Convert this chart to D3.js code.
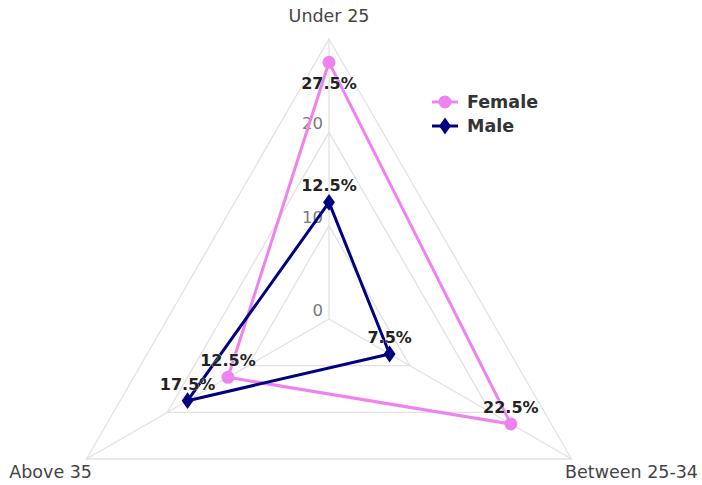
<!DOCTYPE html>
<html lang="en">
<head>
<meta charset="UTF-8">
<title>Age groups radar</title>
<script src="https://cdn.jsdelivr.net/npm/d3@7/dist/d3.min.js"></script>
<style>
  body { margin: 0; background: #fff; }
  svg text { font-family: "DejaVu Sans", sans-serif; }
</style>
</head>
<body>
<div id="chart"></div>
<script>
  // data
  var categories = ["Under 25", "Between 25-34", "Above 35"];
  var seriesNames = ["Female", "Male"];
  var female = [27.5, 22.5, 12.5];
  var male = [12.5, 7.5, 17.5];
  var ticks = [0, 10, 20, 30];
  var tickLabels = ["0", "10", "20"];

  var width = 702, height = 485;
  var cx = 329, cy = 319;
  var colors = ["#ee82ee", "#000080"];

  var svg = d3.select("#chart").append("svg")
      .attr("width", width)
      .attr("height", height);

  var r = d3.scaleLinear().domain([0, 30]).range([0, 280]);
  function ang(i) { return -Math.PI / 2 + i * 2 * Math.PI / categories.length; }
  function px(i, v) { return cx + r(v) * Math.cos(ang(i)); }
  function py(i, v) { return cy + r(v) * Math.sin(ang(i)); }

  var g = svg.append("g");

  // grid triangles
  ticks.slice(1).forEach(function(t) {
    g.append("polygon")
      .attr("points", categories.map(function(c, i) { return px(i, t) + "," + py(i, t); }).join(" "))
      .attr("fill", "none")
      .attr("stroke", "#e2e2e2")
      .attr("stroke-width", 1.3);
  });

  // spokes
  categories.forEach(function(c, i) {
    g.append("line")
      .attr("x1", cx).attr("y1", cy)
      .attr("x2", px(i, 30)).attr("y2", py(i, 30))
      .attr("stroke", "#e2e2e2")
      .attr("stroke-width", 1.3);
  });

  // radial tick labels
  tickLabels.forEach(function(t, k) {
    g.append("text")
      .attr("x", cx - 6)
      .attr("y", cy - r(ticks[k]) - 3)
      .attr("text-anchor", "end")
      .attr("font-size", 16.5)
      .attr("fill", "#7a7a7a")
      .text(t);
  });

  // category labels
  var catPos = [
    { x: cx, y: 22, anchor: "middle" },
    { x: 565, y: 478, anchor: "start" },
    { x: 92, y: 478, anchor: "end" }
  ];
  categories.forEach(function(c, i) {
    g.append("text")
      .attr("x", catPos[i].x)
      .attr("y", catPos[i].y)
      .attr("text-anchor", catPos[i].anchor)
      .attr("font-size", 17.5)
      .attr("fill", "#444")
      .text(c);
  });

  var line = d3.line()
      .x(function(d, i) { return px(i, d); })
      .y(function(d, i) { return py(i, d); })
      .curve(d3.curveLinearClosed);

  var diamond = d3.symbol().type(d3.symbolDiamond).size(100);

  [female, male].forEach(function(vals, s) {
    g.append("path")
      .attr("d", line(vals))
      .attr("fill", "none")
      .attr("stroke", colors[s])
      .attr("stroke-width", 3)
      .attr("stroke-linejoin", "round");

    vals.forEach(function(v, i) {
      var x = px(i, v), y = py(i, v);
      if (s === 0) {
        g.append("circle").attr("cx", x).attr("cy", y).attr("r", 6.5).attr("fill", colors[s]);
      } else {
        g.append("path").attr("d", diamond)
          .attr("transform", "translate(" + x + "," + y + ") scale(1.1,0.9)")
          .attr("fill", colors[s]);
      }
    });
  });

  // data labels on top of the lines
  [female, male].forEach(function(vals, s) {
    vals.forEach(function(v, i) {
      var x = px(i, v), y = py(i, v);
      var ly = (y < 80) ? y + 27 : y - 11;
      g.append("text")
        .attr("x", x)
        .attr("y", ly)
        .attr("text-anchor", "middle")
        .attr("font-size", 16)
        .attr("font-weight", "bold")
        .attr("fill", "#222")
        .attr("stroke", "#fff")
        .attr("stroke-width", 0.6)
        .attr("paint-order", "stroke")
        .text(v + "%");
    });
  });

  // legend
  var legend = svg.append("g").attr("transform", "translate(432,102)");
  seriesNames.forEach(function(name, s) {
    var row = legend.append("g").attr("transform", "translate(0," + s * 24 + ")");
    row.append("line").attr("x1", 0).attr("x2", 26).attr("y1", 0).attr("y2", 0)
      .attr("stroke", colors[s]).attr("stroke-width", 3);
    if (s === 0) {
      row.append("circle").attr("cx", 13).attr("cy", 0).attr("r", 6.5).attr("fill", colors[s]);
    } else {
      row.append("path").attr("d", diamond)
        .attr("transform", "translate(13,0) scale(1.1,0.9)").attr("fill", colors[s]);
    }
    row.append("text")
      .attr("x", 35).attr("y", 6)
      .attr("font-size", 17.5).attr("font-weight", "bold").attr("fill", "#333")
      .text(name);
  });
</script>
</body>
</html>
